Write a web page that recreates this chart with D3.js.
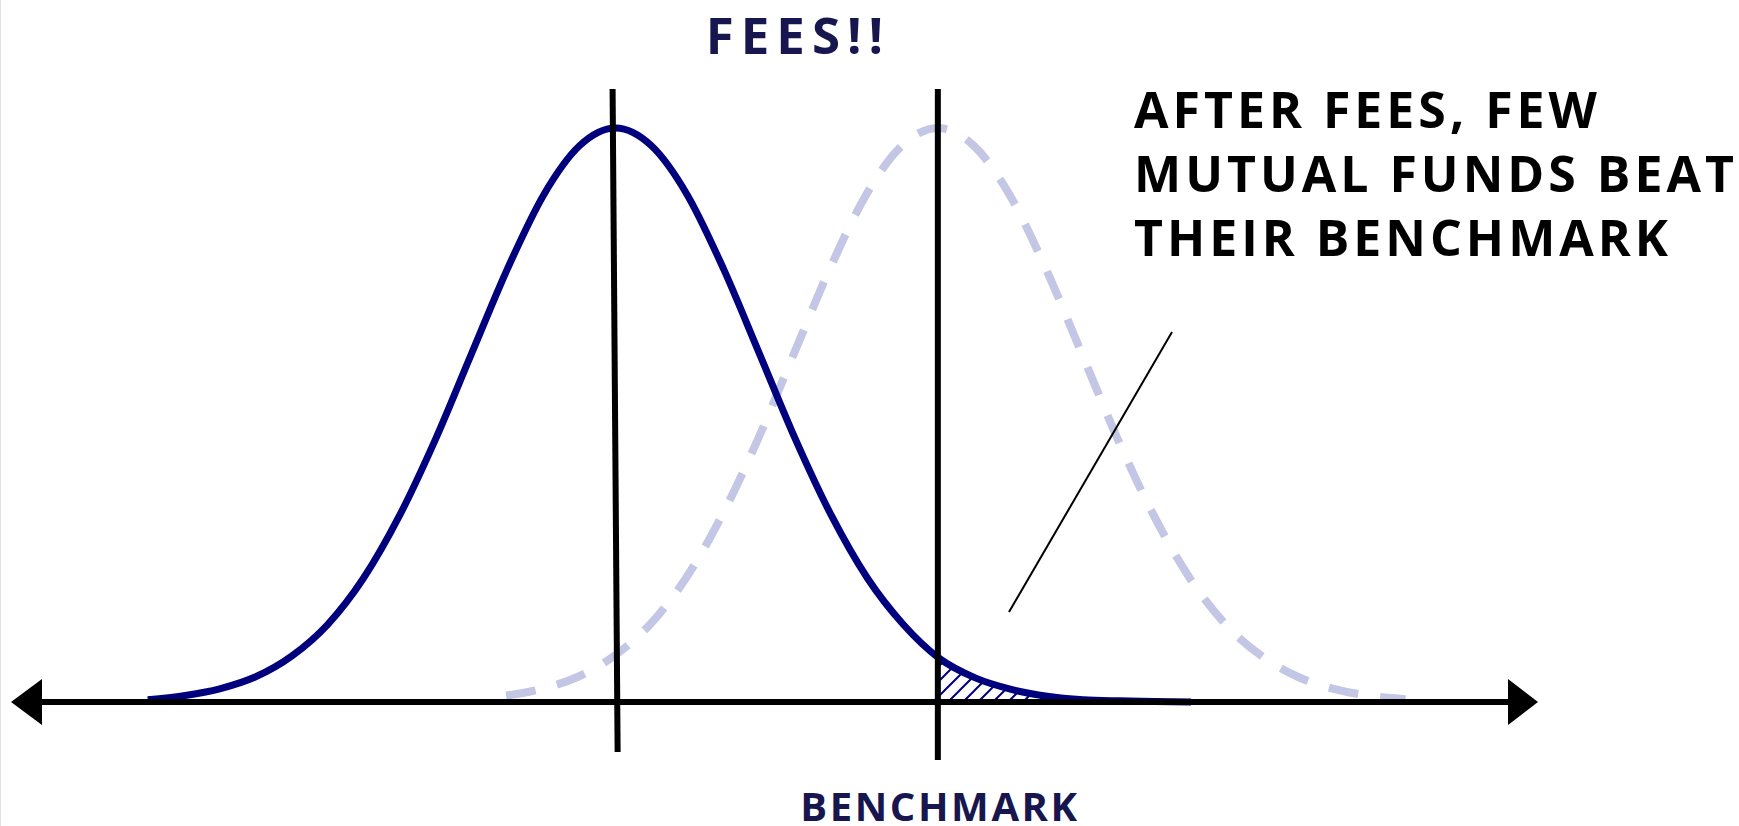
<!DOCTYPE html>
<html>
<head>
<meta charset="utf-8">
<script src="https://cdn.jsdelivr.net/npm/d3@7/dist/d3.min.js"></script>
<style>
  html, body { margin: 0; padding: 0; background: #fff; }
  svg { display: block; }
  text { font-family: "Open Sans", "DejaVu Sans", sans-serif; font-weight: 700; }
</style>
</head>
<body>
<svg id="chart" width="1739" height="826"></svg>
<script>
// ---- data (x in "return" units, benchmark = 0; y = relative frequency, peak = 1) ----
const solidX = [-5.49, -5.24, -4.99, -4.74, -4.49, -4.24, -3.99, -3.74, -3.49, -3.24, -2.99, -2.74, -2.49, -2.24,
                -1.99, -1.74, -1.49, -1.24, -0.99, -0.74, -0.49, -0.24, 0.01, 0.26, 0.51, 0.76, 1.01, 1.26, 1.51, 1.76];
const solidY = [0.004, 0.011, 0.023, 0.044, 0.080, 0.135, 0.216, 0.325, 0.458, 0.607, 0.755, 0.883, 0.969, 1.0,
                0.969, 0.883, 0.755, 0.607, 0.458, 0.325, 0.216, 0.135, 0.076, 0.042, 0.022, 0.010, 0.004, 0.002, 0.001, 0.0];
const dashedX = [-3.0, -2.75, -2.5, -2.25, -2.0, -1.75, -1.5, -1.25, -1.0, -0.75, -0.5, -0.25, 0,
                 0.25, 0.5, 0.75, 1.0, 1.25, 1.5, 1.75, 2.0, 2.25, 2.5, 2.75, 3.0, 3.25];
const dashedY = [0.011, 0.023, 0.044, 0.080, 0.135, 0.216, 0.325, 0.458, 0.607, 0.755, 0.883, 0.969, 1.0,
                 0.969, 0.883, 0.755, 0.607, 0.458, 0.325, 0.216, 0.135, 0.080, 0.044, 0.023, 0.011, 0.005];
const feesMean = -2.24;
const benchmark = 0;
const titleText = "FEES!!";
const axisLabel = "BENCHMARK";
const noteLines = ["AFTER FEES, FEW", "MUTUAL FUNDS BEAT", "THEIR BENCHMARK"];

// ---- layout ----
const svg = d3.select("#chart");
const x = d3.scaleLinear().domain([-6.44, 4.17]).range([11, 1538]);
const y = d3.scaleLinear().domain([0, 1]).range([702, 128]);
const NAVY = "#00007f";
const TEXT_NAVY = "#17164f";
const LAVENDER = "#c3c6e4";

const solid = solidX.map((v, i) => ({ x: v, y: solidY[i] }));
const dashed = dashedX.map((v, i) => ({ x: v, y: dashedY[i] }));

// faint left border
svg.append("line").attr("x1", 0.5).attr("x2", 0.5).attr("y1", 0).attr("y2", 826)
  .attr("stroke", "#e2e2e2").attr("stroke-width", 1);

const defs = svg.append("defs");
const pat = defs.append("pattern").attr("id", "hatch").attr("patternUnits", "userSpaceOnUse")
  .attr("width", 15).attr("height", 15);
pat.append("path").attr("d", "M-4,4 L4,-4 M0,15 L15,0 M11,19 L19,11")
  .attr("stroke", NAVY).attr("stroke-width", 2);
defs.append("clipPath").attr("id", "rightOfBench").append("rect")
  .attr("x", x(benchmark)).attr("y", 0).attr("width", 1739 - x(benchmark)).attr("height", y(0));

// hatched tail
const area = d3.area().x(d => x(d.x)).y0(y(0)).y1(d => y(d.y)).curve(d3.curveMonotoneX);
svg.append("path").datum(solid).attr("d", area)
  .attr("fill", "url(#hatch)").attr("clip-path", "url(#rightOfBench)");

const line = d3.line().x(d => x(d.x)).y(d => y(d.y)).curve(d3.curveMonotoneX);

// dashed (pre-fee) curve
svg.append("path").datum(dashed).attr("d", line)
  .attr("fill", "none").attr("stroke", LAVENDER).attr("stroke-width", 8)
  .attr("stroke-dasharray", "30,22");

// solid (after-fee) curve
svg.append("path").datum(solid).attr("d", line)
  .attr("fill", "none").attr("stroke", NAVY).attr("stroke-width", 7);

// vertical lines
svg.append("line")
  .attr("x1", x(feesMean - 0.02)).attr("y1", y(1.068))
  .attr("x2", x(feesMean + 0.015)).attr("y2", y(-0.087))
  .attr("stroke", "#000").attr("stroke-width", 6);
svg.append("line")
  .attr("x1", x(benchmark)).attr("y1", y(1.068))
  .attr("x2", x(benchmark)).attr("y2", y(-0.101))
  .attr("stroke", "#000").attr("stroke-width", 6);

// axis with arrows
const [xmin, xmax] = x.range();
svg.append("line").attr("x1", xmin + 28).attr("x2", xmax - 28)
  .attr("y1", y(0)).attr("y2", y(0)).attr("stroke", "#000").attr("stroke-width", 6);
svg.append("path")
  .attr("d", `M${xmin},${y(0)} L${xmin + 31},${y(0) - 23} L${xmin + 31},${y(0) + 23} Z`)
  .attr("fill", "#000");
svg.append("path")
  .attr("d", `M${xmax},${y(0)} L${xmax - 30},${y(0) - 23} L${xmax - 30},${y(0) + 23} Z`)
  .attr("fill", "#000");

// annotation pointer
svg.append("line").attr("x1", 1172).attr("y1", 332).attr("x2", 1009).attr("y2", 612)
  .attr("stroke", "#000").attr("stroke-width", 2);

// texts
svg.append("text").attr("x", 798).attr("y", 54).attr("text-anchor", "middle")
  .attr("font-size", 51).attr("letter-spacing", "7px").attr("fill", TEXT_NAVY).text(titleText);

svg.append("text").attr("x", 940).attr("y", 821).attr("text-anchor", "middle")
  .attr("font-size", 40).attr("letter-spacing", "2.6px").attr("fill", TEXT_NAVY).text(axisLabel);

const note = svg.append("text").attr("x", 1134).attr("y", 128).attr("fill", "#000")
  .attr("font-size", 50).attr("letter-spacing", "4px");
noteLines.forEach((t, i) => {
  note.append("tspan").attr("x", 1134).attr("y", 128 + i * 64).text(t);
});
</script>
</body>
</html>
